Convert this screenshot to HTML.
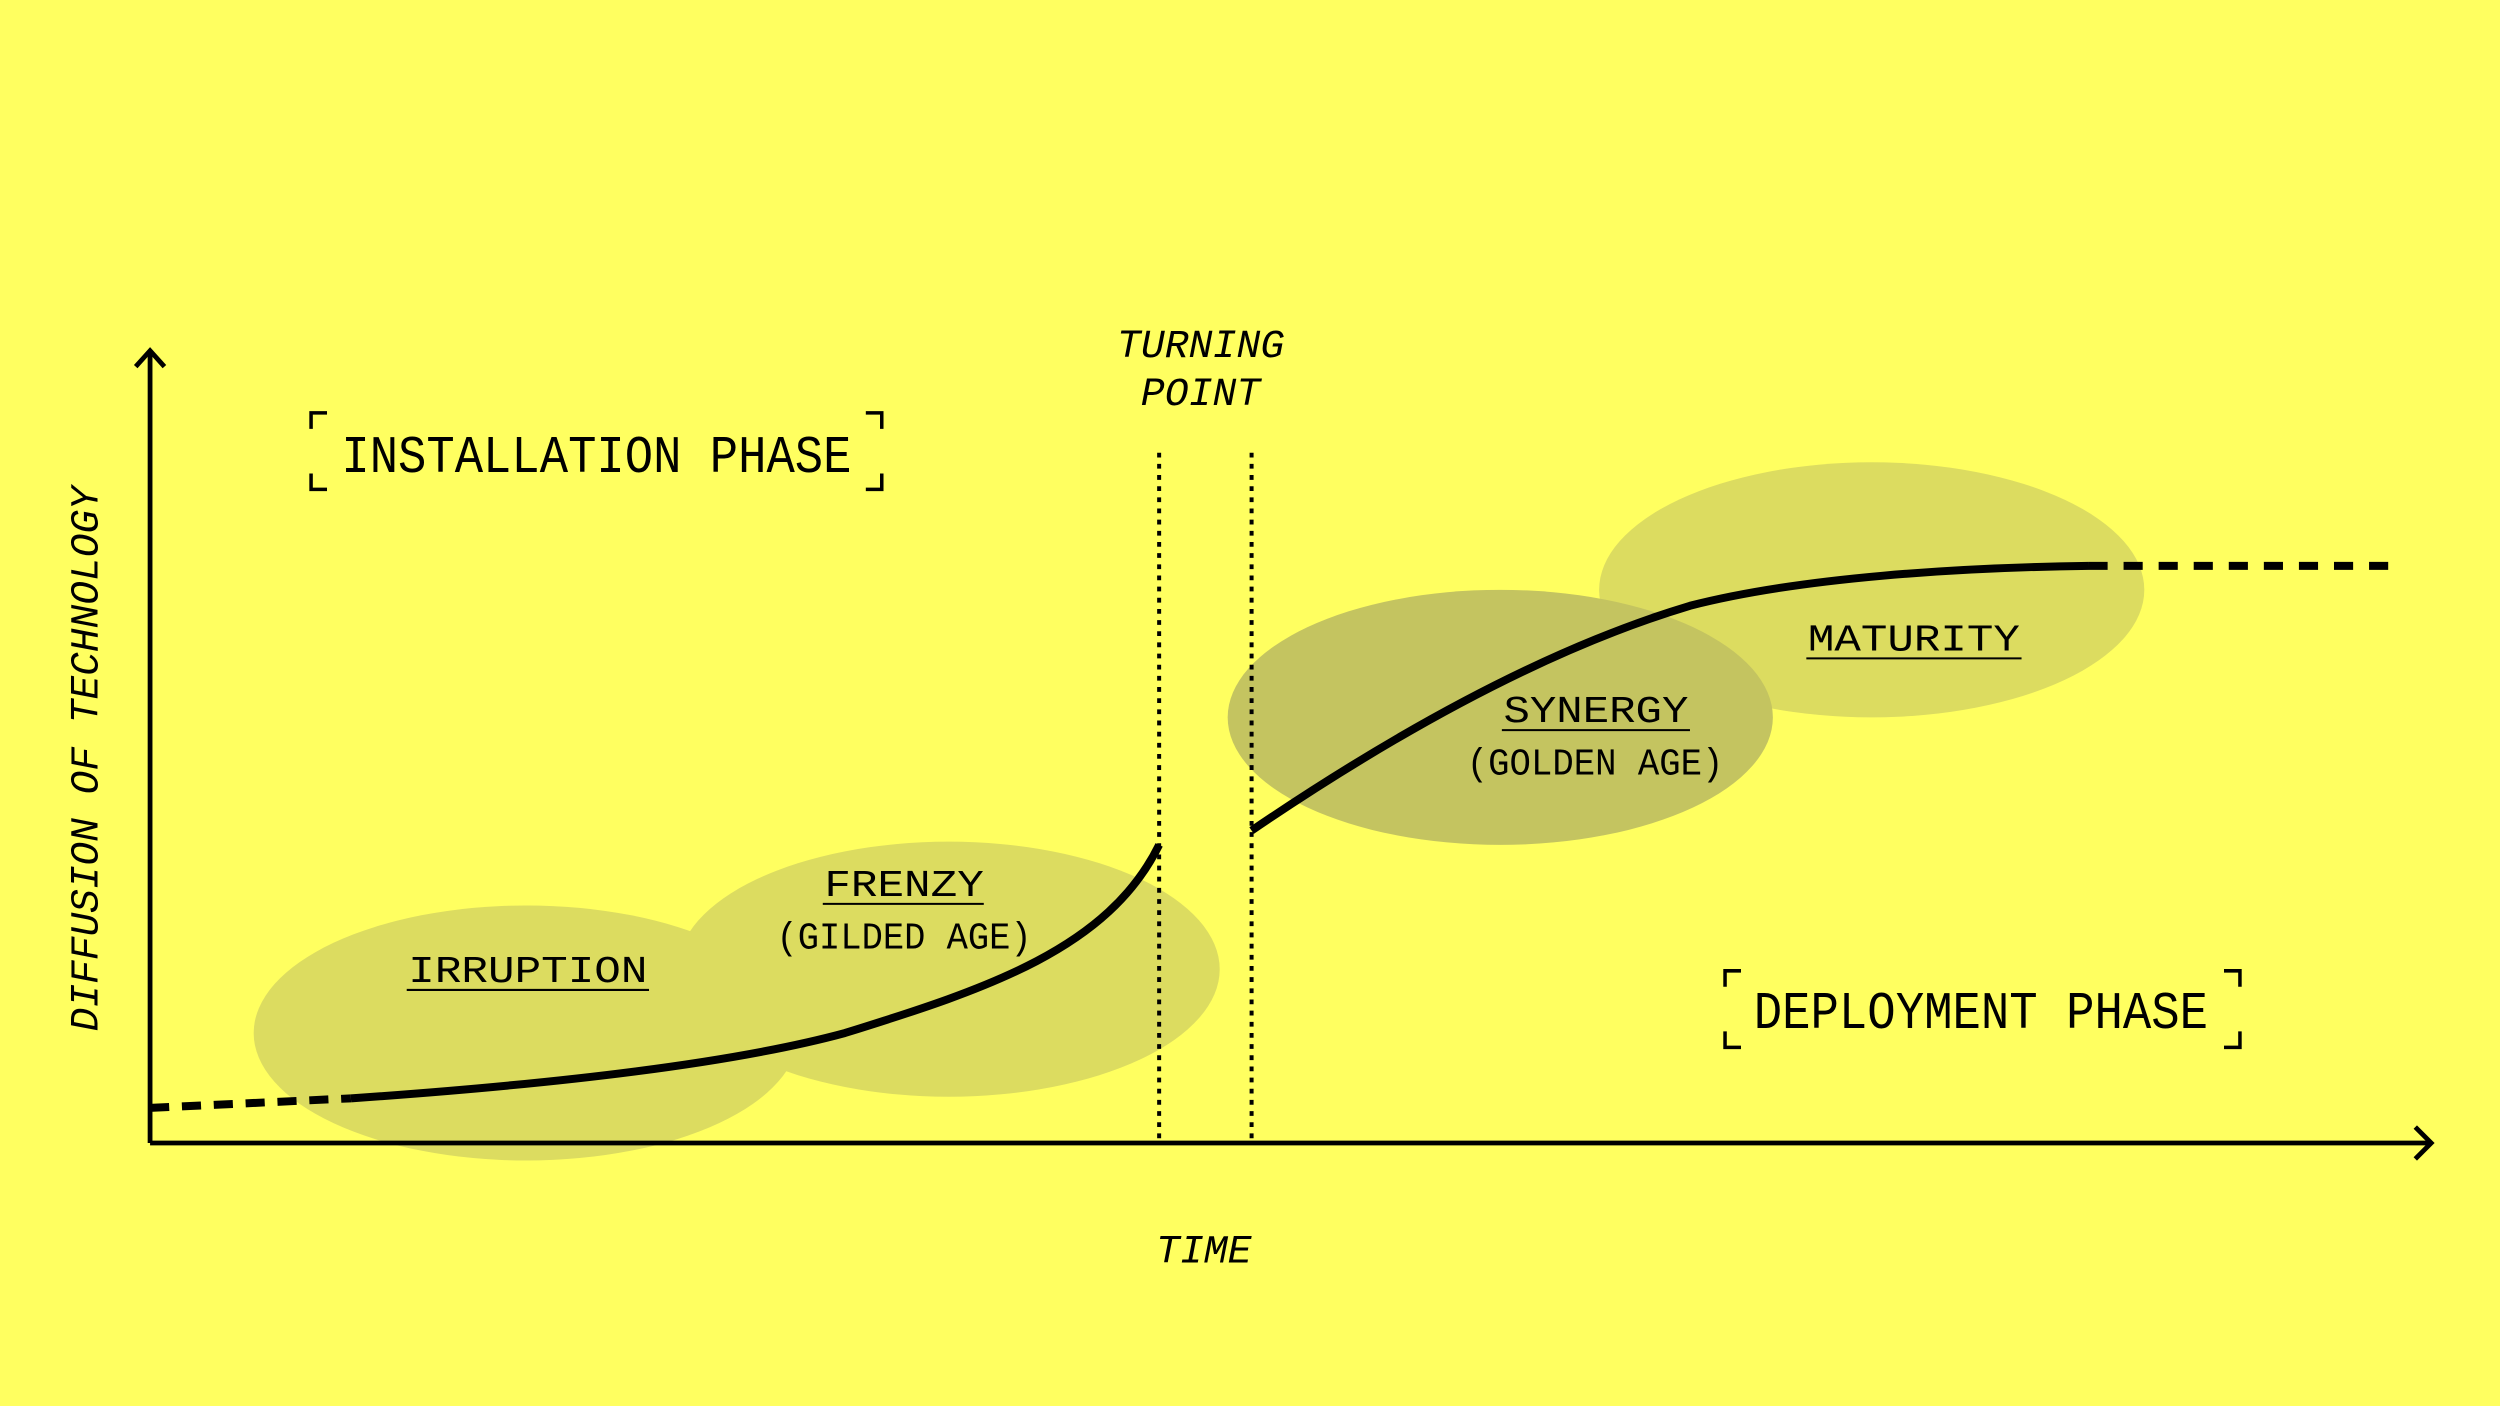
<!DOCTYPE html>
<html><head><meta charset="utf-8"><style>
html,body{margin:0;padding:0;background:#FFFF60;}
svg{display:block;}
text{font-family:"Liberation Mono","DejaVu Sans Mono",monospace;fill:#000;}
</style></head><body>
<svg width="2500" height="1406" viewBox="0 0 1568 882" xmlns="http://www.w3.org/2000/svg">
<rect width="1568" height="882" fill="#FFFF60"/>
<ellipse cx="330" cy="648" rx="171" ry="80" fill="#DCDC60"/>
<ellipse cx="595" cy="608" rx="170" ry="80" fill="#DCDC60"/>
<ellipse cx="1174" cy="370" rx="171" ry="80" fill="#DCDC60"/>
<ellipse cx="941" cy="450" rx="171" ry="80" fill="#C4C460"/>
<!-- axes -->
<g stroke="#000" stroke-width="3" fill="none">
<path d="M94 717 V221"/>
<path d="M85 230 L94 220 L103 230"/>
<path d="M94 717 H1524"/>
<path d="M1515 707 L1525 717 L1515 727"/>
</g>
<!-- dotted verticals -->
<g stroke="#000" stroke-width="2.5" stroke-dasharray="3 4">
<path d="M727 284 V717"/>
<path d="M785 284 V717"/>
</g>
<!-- curves -->
<g stroke="#000" stroke-width="5" fill="none">
<path d="M94 695 L220 689" stroke-dasharray="12 8"/>
<path d="M220 689 C350 680 460 667 530 648 C620 620 695 595 727 530"/>
<path d="M785 521 C860 470 960 410 1060 380 C1130 362 1230 356 1310 355"/>
<path d="M1310 355 H1508" stroke-dasharray="12 10"/>
</g>
<!-- brackets -->
<g stroke="#000" stroke-width="2.2" fill="none">
<path d="M195 269 V259 H205"/><path d="M195 297 V307 H205"/>
<path d="M553 269 V259 H543"/><path d="M553 297 V307 H543"/>
<path d="M1082 619 V609 H1092"/><path d="M1082 647 V657 H1092"/>
<path d="M1405 619 V609 H1395"/><path d="M1405 647 V657 H1395"/>
</g>
<text x="214" y="296" font-size="33" textLength="320" lengthAdjust="spacingAndGlyphs">INSTALLATION PHASE</text>
<text x="1100" y="645" font-size="33" textLength="285" lengthAdjust="spacingAndGlyphs">DEPLOYMENT PHASE</text>
<g font-style="italic" font-size="25" text-anchor="middle">
<text x="753" y="224">TURNING</text>
<text x="753" y="254">POINT</text>
<text x="755" y="792">TIME</text>
<text transform="translate(61 476) rotate(-90)" textLength="342" lengthAdjust="spacingAndGlyphs">DIFFUSION OF TECHNOLOGY</text>
</g>
<g font-size="24">
<text x="256" y="616" textLength="150" lengthAdjust="spacingAndGlyphs">IRRUPTION</text>
<text x="517" y="562" textLength="100" lengthAdjust="spacingAndGlyphs">FRENZY</text>
<text x="487" y="595" textLength="160" lengthAdjust="spacingAndGlyphs">(GILDED AGE)</text>
<text x="943" y="453" textLength="116" lengthAdjust="spacingAndGlyphs">SYNERGY</text>
<text x="920" y="486" textLength="161" lengthAdjust="spacingAndGlyphs">(GOLDEN AGE)</text>
<text x="1134" y="408" textLength="133" lengthAdjust="spacingAndGlyphs">MATURITY</text>
</g>
<g stroke="#000" stroke-width="1.3">
<path d="M255 621 H407"/>
<path d="M516 567 H617"/>
<path d="M942 458 H1060"/>
<path d="M1133 413 H1268"/>
</g>
</svg>
</body></html>
